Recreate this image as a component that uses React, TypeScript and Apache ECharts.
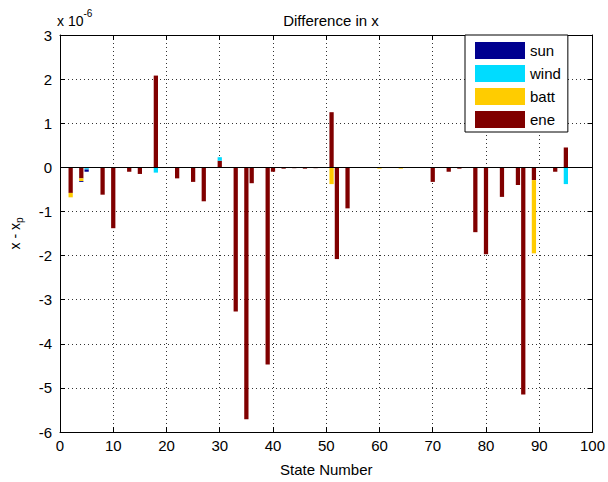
import React, { useEffect, useRef } from "react";
import * as echarts from "echarts";

// State numbers that carry a non-zero bar
const states = [2, 4, 5, 8, 10, 13, 15, 18, 22, 25, 27, 30, 33, 35, 36, 39, 40, 42, 44, 46, 48, 51, 52, 54, 60, 64, 70, 73, 75, 78, 80, 83, 86, 87, 89, 93, 95];
// Values in units of 1e-6, aligned with states
const sun = [0, -0.02, -0.05, 0, 0, 0, 0, 0, 0, 0, 0, 0, 0, 0, 0, 0, 0, 0, 0, 0, 0, 0, 0, 0, 0, 0, 0, 0, 0, 0, 0, 0, 0, 0, 0, 0, 0];
const wind = [0, 0, -0.03, 0, 0, 0, 0, -0.12, 0, 0, 0, 0.08, 0, 0, 0, 0, 0, 0, 0, 0, 0, 0, 0, 0, 0, 0, 0, 0, 0, 0, 0, 0, 0, 0, 0, 0, -0.38];
const batt = [-0.1, -0.06, 0, 0, 0, 0, 0, 0, 0, 0, 0, 0, 0, 0, 0, 0, 0, 0, 0, 0, 0, -0.38, 0, 0, -0.03, -0.03, 0, 0, 0, 0, 0, 0, 0, 0, -1.66, 0, 0];
const ene = [-0.58, -0.25, -0.02, -0.62, -1.38, -0.1, -0.15, 2.08, -0.25, -0.33, -0.77, 0.15, -3.27, -5.71, -0.36, -4.47, -0.1, -0.03, -0.02, -0.03, -0.02, 1.25, -2.08, -0.93, 0, 0, -0.33, -0.1, -0.03, -1.47, -1.97, -0.67, -0.4, -5.15, -0.29, -0.1, 0.45];

// x axis: state numbers 0..100, labelled every 10
const xCategories = Array.from({ length: 101 }, (_, i) => String(i));
const xLabelEvery = 10;
const yTicks = { min: -6, max: 3, interval: 1 };

const colors: Record<string, string> = {
  sun: "#00008f",
  wind: "#00dcff",
  batt: "#ffcc00",
  ene: "#800000",
};

function fullSeries(vals: number[]) {
  const arr: (number | null)[] = xCategories.map(() => null);
  states.forEach((s, i) => {
    if (vals[i] !== 0) arr[s] = vals[i];
  });
  return arr;
}

export default function App() {
  const ref = useRef<HTMLDivElement>(null);
  useEffect(() => {
    document.body.style.margin = "0";
    if (!ref.current) return;
    const chart = echarts.init(ref.current, undefined, { renderer: "svg" });
    const font = "Liberation Sans, Arial, sans-serif";
    const mk = (name: string, vals: number[], extra: any = {}) => ({
      name,
      type: "bar",
      stack: "total",
      barWidth: "80%",
      data: fullSeries(vals),
      itemStyle: { color: colors[name] },
      ...extra,
    });
    const every = xLabelEvery - 1;
    const grid = { type: [1, 3] as any, color: "#333", width: 1 };
    chart.setOption({
      animation: false,
      backgroundColor: "#fff",
      textStyle: { fontFamily: font },
      title: {
        text: "Difference in x",
        left: 326,
        top: 8,
        textAlign: "center",
        textStyle: { fontSize: 15, fontWeight: "normal", color: "#000", fontFamily: font },
      },
      graphic: [
        {
          type: "text",
          left: 57,
          top: 8,
          style: {
            text: "{a|x 10}{b|-6}",
            rich: {
              a: { fontSize: 14, fontFamily: font, fill: "#000", verticalAlign: "bottom", padding: [6, 0, 0, 0] },
              b: { fontSize: 10, fontFamily: font, fill: "#000", verticalAlign: "top" },
            },
          },
        },
      ],
      legend: {
        orient: "vertical",
        left: 465,
        top: 35,
        data: ["sun", "wind", "batt", "ene"],
        icon: "rect",
        itemWidth: 50,
        itemHeight: 17,
        itemGap: 6,
        padding: [7, 7, 4, 10],
        borderColor: "#000",
        borderWidth: 1,
        borderRadius: 0,
        backgroundColor: "#fff",
        itemStyle: { borderWidth: 0 },
        textStyle: { fontSize: 15, color: "#000", fontFamily: font },
      },
      grid: { left: 57, right: 10, top: 35, bottom: 42 },
      xAxis: [
        {
          type: "category",
          data: xCategories,
          boundaryGap: false,
          position: "bottom",
          name: "State Number",
          nameLocation: "middle",
          nameGap: 30,
          nameTextStyle: { fontSize: 15, color: "#000", fontFamily: font },
          axisLine: { show: true, onZero: false, lineStyle: { color: "#000", width: 1 } },
          axisTick: { show: true, inside: true, length: 5, interval: every, lineStyle: { color: "#000" } },
          axisLabel: { fontSize: 15, color: "#000", fontFamily: font, margin: 6, interval: every },
          splitLine: { show: true, interval: every, lineStyle: grid },
        },
        {
          type: "category",
          data: xCategories,
          boundaryGap: false,
          position: "top",
          axisLine: { show: true, onZero: false, lineStyle: { color: "#000", width: 1 } },
          axisTick: { show: true, inside: true, length: 5, interval: every, lineStyle: { color: "#000" } },
          axisLabel: { show: false },
          splitLine: { show: false },
        },
      ],
      yAxis: [
        {
          type: "value",
          ...yTicks,
          position: "left",
          name: "{a|x - x}{b|p}",
          nameLocation: "middle",
          nameGap: 36,
          nameTextStyle: {
            rich: {
              a: { fontSize: 14, fontFamily: font, color: "#000" },
              b: { fontSize: 10, fontFamily: font, color: "#000", padding: [8, 0, 0, 0] },
            },
          },
          axisLine: { show: true, onZero: false, lineStyle: { color: "#000", width: 1 } },
          axisTick: { show: true, inside: true, length: 5, lineStyle: { color: "#000" } },
          axisLabel: { fontSize: 15, color: "#000", fontFamily: font, margin: 8 },
          splitLine: { show: true, lineStyle: grid },
        },
        {
          type: "value",
          ...yTicks,
          position: "right",
          axisLine: { show: true, onZero: false, lineStyle: { color: "#000", width: 1 } },
          axisTick: { show: true, inside: true, length: 5, lineStyle: { color: "#000" } },
          axisLabel: { show: false },
          splitLine: { show: false },
        },
      ],
      series: [
        mk("ene", ene, {
          markLine: {
            silent: true,
            symbol: "none",
            label: { show: false },
            lineStyle: { color: "#000", type: "solid", width: 1 },
            data: [{ yAxis: 0 }],
          },
        }),
        mk("batt", batt),
        mk("wind", wind),
        mk("sun", sun),
      ],
    });
    return () => chart.dispose();
  }, []);
  return <div ref={ref} style={{ width: 608, height: 482 }} />;
}
